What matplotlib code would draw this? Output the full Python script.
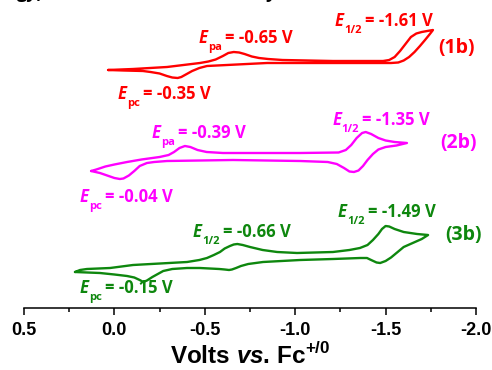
import matplotlib
matplotlib.use("Agg")
import matplotlib.pyplot as plt

# ---------------- data (potential in V vs Fc+/0, current in a.u.) ----------------
red_E = [0.035, -0.103, -0.291, -0.473, -0.52, -0.56, -0.60, -0.63, -0.66, -0.69, -0.72,
         -0.76, -0.80, -0.85, -0.93, -1.209, -1.486, -1.52, -1.55, -1.58, -1.61, -1.64,
         -1.67, -1.70, -1.73, -1.762,
         -1.745, -1.718, -1.69, -1.66, -1.63, -1.60, -1.57, -1.53, -1.209, -0.844,
         -0.512, -0.47, -0.43, -0.40, -0.37, -0.35, -0.32, -0.29, -0.25, -0.20, -0.158,
         -0.05, 0.035]
red_I = [-2, -1, 1, 5, 6.5, 8.5, 12, 15, 16, 15.5, 14,
         11.5, 10, 9, 8, 7, 7, 8, 11, 17, 24, 31,
         34.5, 36, 37, 38,
         34, 28, 22, 16, 11, 7.5, 5.5, 5, 5, 5,
         2, 0, -3, -6, -9, -10, -9.5, -8, -5.5, -4, -3,
         -2.5, -2]
red_offset = 240

mag_E = [0.129, 0.10, 0.05, 0.0, -0.07, -0.15, -0.25, -0.30, -0.33, -0.36, -0.39, -0.42,
         -0.46, -0.51, -0.60, -1.027, -1.24, -1.28, -1.31, -1.34, -1.37, -1.39, -1.42,
         -1.46, -1.50, -1.55, -1.618,
         -1.56, -1.50, -1.46, -1.43, -1.40, -1.375, -1.35, -1.325, -1.30, -1.27, -1.23,
         -1.18, -1.027, -0.656, -0.291, -0.22, -0.18, -0.14, -0.11, -0.08, -0.05, -0.03,
         0.0, 0.04, 0.08, 0.129]
mag_I = [-8, -6.5, -3.5, -1.5, 1, 3.5, 6, 8, 11, 15, 17, 16,
         13, 11, 10, 10, 10.5, 13, 18, 25, 30, 31, 29,
         25, 22.5, 21, 20,
         17.5, 16, 13.5, 9, 3, -3, -7.5, -9, -8.5, -5, -1,
         1, 2, 3, 2, 1, 0, -3, -8, -12.5, -15.5, -16,
         -15, -12.5, -10, -8]
mag_offset = 145

grn_E = [0.218, 0.19, 0.152, 0.024, -0.103, -0.402, -0.47, -0.512, -0.55, -0.584, -0.61,
         -0.639, -0.66, -0.68, -0.71, -0.75, -0.82, -0.90, -1.01, -1.209, -1.30, -1.358,
         -1.40, -1.43, -1.46, -1.48, -1.50, -1.52, -1.55, -1.60, -1.674, -1.735,
         -1.70, -1.65, -1.60, -1.56, -1.53, -1.50, -1.47, -1.45, -1.42, -1.397, -1.36,
         -1.209, -1.027, -0.822, -0.74, -0.70, -0.673, -0.65, -0.634, -0.61, -0.58,
         -0.473, -0.402, -0.32, -0.27, -0.24, -0.21, -0.18, -0.16, -0.14, -0.11, -0.07,
         0.0, 0.08, 0.15, 0.218]
grn_I = [-4, -2, -1, 0, 3, 6, 8, 10, 13, 16, 19.5,
         22, 23.5, 24, 23, 21, 18, 16, 15, 16, 18, 20,
         23, 28, 34, 39, 42, 41.5, 39, 36, 34, 33,
         29, 25, 21, 15, 10.5, 7, 5, 5.5, 8, 10, 10,
         9, 8, 6, 4, 2, 0, -1.5, -2, -1.5, -1,
         0, 0, -1, -3, -6, -9, -12.5, -14, -12, -9.5, -8,
         -6.5, -5, -4.5, -4]
grn_offset = 40

x_ticks = [0.5, 0.0, -0.5, -1.0, -1.5, -2.0]
x_tick_labels = ["0.5", "0.0", "-0.5", "-1.0", "-1.5", "-2.0"]

RED = "#ff0000"
MAG = "#ff00ff"
GRN = "#0e870e"

# ---------------- figure ----------------
plt.rcParams["mathtext.fontset"] = "custom"
plt.rcParams["mathtext.rm"] = "Liberation Sans"
plt.rcParams["mathtext.bf"] = "Liberation Sans:weight=bold"
plt.rcParams["mathtext.bfit"] = "Liberation Sans:style=italic:weight=bold"

fig = plt.figure(figsize=(4.92, 3.70), dpi=100)
ax = fig.add_axes([24 / 492, 62 / 370, 452 / 492, 308 / 370])
ax.set_xlim(0.5, -2.0)
ax.set_ylim(0, 308)

for E, I, off, c in [(red_E, red_I, red_offset, RED),
                     (mag_E, mag_I, mag_offset, MAG),
                     (grn_E, grn_I, grn_offset, GRN)]:
    ax.plot(E, [v + off for v in I], color=c, lw=1.7, solid_joinstyle="round",
            solid_capstyle="round", clip_on=False)

for s in ["left", "right", "top"]:
    ax.spines[s].set_visible(False)
ax.spines["bottom"].set_linewidth(1.1)
ax.set_yticks([])
ax.set_xticks(x_ticks)
ax.set_xticklabels(x_tick_labels, fontfamily="Liberation Sans", fontweight="bold", fontsize=13)
ax.set_xticks([0.25, -0.25, -0.75, -1.25, -1.75], minor=True)
ax.tick_params(axis="x", which="major", length=5, width=1.1, pad=5)
ax.tick_params(axis="x", which="minor", length=3.2, width=1.1)
ax.set_xlabel(r"Volts $\mathbfit{vs}$. Fc$^{\mathbf{+/0}}$", fontfamily="Liberation Sans",
              fontweight="bold", fontsize=17.5, labelpad=3)

AFONT = "Open Sans"


def label(x, y, sub, rest, color):
    e = ax.text(x, y, "E", fontsize=12, fontweight="bold", fontstyle="italic",
                family=AFONT, color=color, va="baseline", ha="left")
    s = ax.annotate(sub, xy=(1, 0), xycoords=e, xytext=(0.3, 3.5),
                    textcoords="offset points", fontsize=8, fontweight="bold",
                    family=AFONT, color=color, va="top", ha="left")
    ax.annotate(rest, xy=(1, 0), xycoords=(s, e), xytext=(2, 0),
                textcoords="offset points", fontsize=12, fontweight="bold",
                family=AFONT, color=color, va="bottom", ha="left")


label(-1.220, 282, "1/2", "= -1.61 V", RED)
label(-0.468, 265, "pa", "= -0.65 V", RED)
label(-0.020, 209, "pc", "= -0.35 V", RED)
label(-1.204, 183, "1/2", "= -1.35 V", MAG)
label(-0.208, 170, "pa", "= -0.39 V", MAG)
label(0.190, 106, "pc", "= -0.04 V", MAG)
label(-1.237, 91, "1/2", "= -1.49 V", GRN)
label(-0.435, 71, "1/2", "= -0.66 V", GRN)
label(0.190, 15, "pc", "= -0.15 V", GRN)

for txt, x, y, c in [("(1b)", -1.790, 260, RED), ("(2b)", -1.801, 165, MAG),
                     ("(3b)", -1.829, 73, GRN)]:
    ax.text(x, y, txt, fontsize=14, fontweight="bold", family=AFONT, color=c,
            va="center", ha="left")

# cropped title fragments at the very top (only their descenders show)
fig.text(17 / 492, 1 + 1.5 / 370, "gy)", fontsize=13, fontweight="bold",
         family="Open Sans", color="black", va="baseline", ha="left")
fig.text(266 / 492, 1 + 1.5 / 370, "y", fontsize=13, fontweight="bold",
         family="Open Sans", color="black", va="baseline", ha="left")

fig.savefig("out.png", dpi=100)
